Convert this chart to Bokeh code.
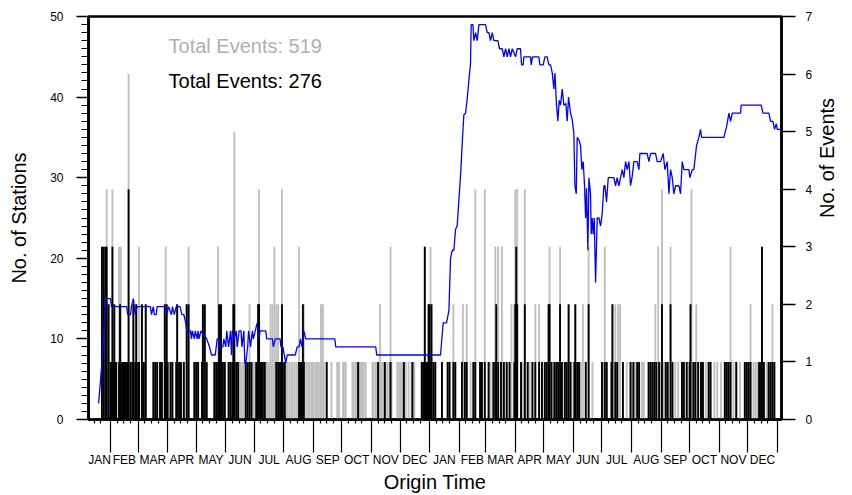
import numpy as np
from bokeh.plotting import figure
from bokeh.models import Range1d, LinearAxis, FixedTicker, Label
from bokeh.embed import file_html
from bokeh.resources import INLINE

FONT = "Liberation Sans"
GRAY = "#c0c0c0"
BLUE = "#0000ff"

MONTH_NAMES = ["JAN", "FEB", "MAR", "APR", "MAY", "JUN",
               "JUL", "AUG", "SEP", "OCT", "NOV", "DEC"]
# two consecutive years, the first one a leap year; day 0 is 1 January of year one
days_in_month = [31, 29, 31, 30, 31, 30, 31, 31, 30, 31, 30, 31,
                 31, 28, 31, 30, 31, 30, 31, 31, 30, 31, 30, 31]
X_START, X_END = 7.9, 735.5

# daily event counts, one digit per day, one string per month
all_events_y1 = [
    "0000000000000000000000" "313134120",
    "1141211003" "2311111116" "111121120",
    "1300211120" "0000001111" "10011100232",
    "1001110001" "2111100100" "2130000010",
    "1110001212" "1100000001" "11132121111",
    "0001111125" "1111010101" "0111121111",
    "1011241111" "1111111212" "13121211041",
    "1101101011" "0101013101" "22101011011",
    "1011101122" "2100100001" "0000011100",
    "0110100000" "0110110111" "01110100000",
    "0110110102" "1010110101" "3100000101",
    "1010101001" "0011010000" "00111131112",
]
all_events_y2 = [
    "2321101000" "0001000001" "01000201000",
    "0001201020" "0010010400" "00101004",
    "0001010010" "3203001301" "00100102002",
    "4340001010" "4001010010" "0200020010",
    "0101023010" "0101010301" "00101020110",
    "0120101010" "2001003000" "1000000000",
    "1013010000" "1200211202" "00100010001",
    "1010101010" "0101000010" "10101211310",
    "1401010100" "3010010010" "0010100100",
    "1240101201" "0010100100" "10100010010",
    "0010001010" "1030010010" "0010000101",
    "0102001010" "1010130100" "10101020100",
]
selected_events_y1 = [
    "0000000000000000000000" "303033020",
    "1131211001" "2101111114" "010120120",
    "1100201020" "0000001010" "10010100212",
    "1001010001" "2010100100" "2020000010",
    "1010001202" "0100000001" "01012020101",
    "0001010122" "0101000000" "0101010100",
    "0011221011" "0100000000" "00010101021",
    "0100000000" "0000001101" "21000000000",
    "0000000000" "0000100000" "0000000000",
    "0000000000" "0000000100" "00000000000",
    "0000000100" "0000100000" "1000000000",
    "0000100000" "0001000000" "00010131112",
]
selected_events_y2 = [
    "2120101000" "0001000001" "01000101000",
    "0001001010" "0000010100" "00101001",
    "0001000010" "1201001001" "00100100001",
    "2320001000" "2001000010" "0100010010",
    "0101022010" "0101010201" "00101020100",
    "0120101000" "0001002000" "0000000000",
    "1001010000" "1200101000" "00100000001",
    "0010001010" "0000000010" "10101010010",
    "0200010100" "2010000000" "0010100100",
    "1200101001" "0010100000" "10100000000",
    "0000001010" "1010000010" "0000000101",
    "0101000000" "0010130100" "00101010100",
]

# number of recording stations (day, stations)
station_day = [
    18.5, 22, 26, 31, 32, 48, 49, 52, 53, 55, 56, 57, 59, 73, 74, 76, 77, 79, 80,
    89, 90, 92, 95, 96, 98, 100, 104, 106, 108, 110, 111, 115, 116, 117, 119, 120,
    122, 123, 124, 126, 132, 135, 137, 141, 143, 145, 146, 149, 150, 152, 153, 155,
    157, 158, 159, 161, 163, 164, 166, 168, 169, 171, 172, 173, 175, 176, 178, 180,
    181, 183, 185, 187, 188, 194, 195, 201, 202, 204, 209, 210, 212, 213.5, 215,
    216.5, 225, 227, 229, 230.5, 232, 234, 236, 266.5, 267.5, 309.5, 310.5,
    377.5, 380.3, 383.8, 386.3, 388, 389.8, 391.5, 393.3, 395, 396.8, 398.5, 400.3,
    402, 403.8, 405.5, 407.3, 409, 409.7, 411.5, 412.5, 414.3, 416, 417.8, 424.8,
    426.5, 428.3, 430, 431.8, 433.5, 437.7, 439.5, 442.3, 444, 445.8, 447.5, 449.3,
    451, 452.8, 456.3, 458, 461.5, 462.6, 464.3, 465, 472, 472.7, 474.1, 480.8,
    481.8, 485.3, 487.1, 489.5, 491.3, 493, 494.8, 496.5, 497.6, 499.3, 500.7,
    502.1, 503.5, 505.3, 507, 509.1, 510.5, 511.9, 514, 515.8, 517.5, 518.6, 520,
    521, 522.8, 524.5, 525.9, 527.3, 528.7, 529.8, 530.8, 532.2, 533.3, 535, 535.7,
    536.8, 537.8, 538.9, 540.3, 542, 543.8, 545.5, 547.3, 549, 550.1, 551.8, 553.6,
    559.5, 561.3, 563, 564.8, 566.5, 568.3, 570, 571.8, 573.5, 575.3, 577, 578.8,
    580.5, 584, 585.8, 586.8, 594.5, 596.3, 598, 603.3, 605, 608.5, 611.3, 613.1,
    615.5, 617.3, 619, 620.8, 622.5, 624.3, 627.8, 629.5, 631.3, 633, 638.3, 639.3,
    641.8, 643.5, 646.3, 648.8, 650.5, 651.6, 675, 677.8, 680.3, 682, 683.8, 692.5,
    693.2, 714.2, 716, 722.3, 724, 726.5, 728.2, 730, 731, 734.5, 735.5,
]
station_count = [
    2, 7, 15, 15, 14, 14, 13, 13, 14, 15, 14, 13, 14, 14, 13, 14, 13, 13, 14,
    14, 13, 14, 13, 14, 13, 14, 14, 13, 13, 12, 11, 11, 10, 11, 10, 11,
    10, 11, 10, 11, 10, 9, 8, 8, 10, 10, 9, 9, 10, 9, 11, 9,
    11, 8, 11, 10, 11, 9, 11, 11, 9, 11, 7, 7, 9, 11, 9, 11,
    10, 11, 12, 10, 11, 11, 10, 10, 9, 10, 10, 9, 9, 8, 7,
    8, 8, 9, 9, 10, 9, 11, 10, 10, 9, 9, 8,
    8, 12, 12, 13.5, 20, 21, 21, 23.6, 24, 27.3, 30.2, 34.3,
    37.8, 38, 39.8, 42.1, 44.2, 49, 49, 47, 48, 47, 49, 49,
    48, 48, 47, 48, 47, 47, 46, 46, 45, 46, 45, 46,
    45, 46, 45, 46, 46, 44, 44, 45, 45, 44, 45, 45,
    44, 44, 45, 45, 44, 44, 43, 41, 43, 39, 37,
    39.6, 39, 41, 39, 39.2, 37, 40, 38, 37.2, 35.5, 29, 28,
    35, 34.7, 34, 31, 32, 29, 25, 28.7, 21, 30, 28, 23,
    25, 23, 25, 17, 25, 25, 24, 25.6, 29, 29, 27, 30,
    30, 29, 30, 29, 30, 31, 30, 32, 31, 32, 29, 30.2,
    32, 32, 31, 33, 33, 32, 33, 33, 32, 32, 33, 31,
    32, 28, 31, 30, 28, 29, 29, 28, 32, 31, 31, 30,
    31, 31, 34, 35, 36, 35, 35, 36.3, 38, 37, 38, 38,
    39, 39, 38, 38, 37, 37, 36, 36.7, 36, 36, 37,
]


def to_counts(months):
    return np.array([int(ch) for m in months for ch in m])


all_counts = np.concatenate([to_counts(all_events_y1), to_counts(all_events_y2)])
sel_counts = np.concatenate([to_counts(selected_events_y1), to_counts(selected_events_y2)])
days = np.arange(len(all_counts))

month_start = np.concatenate([[0], np.cumsum(days_in_month)])
boundaries = [float(m) for m in month_start if X_START < m < X_END]
weekly = [float(m + k) for m in month_start[:-1] for k in (7, 14, 21)
          if X_START < m + k < X_END]
centers, month_labels = [], {}
for i in range(len(days_in_month)):
    a = max(month_start[i], X_START)
    b = min(month_start[i + 1], X_END)
    if b - a > 10:
        c = float(round(a + b) / 2)
        centers.append(c)
        month_labels[c] = MONTH_NAMES[i % 12]

p = figure(width=852, height=495, output_backend="svg", toolbar_location=None,
           x_range=Range1d(X_START, X_END), y_range=Range1d(0, 50),
           x_axis_location=None, y_axis_location="left",
           min_border_left=88, min_border_right=71, min_border_top=16,
           min_border_bottom=74)
p.extra_y_ranges = {"events": Range1d(0, 7)}
p.grid.visible = False
p.background_fill_color = "white"
p.border_fill_color = "white"
p.outline_line_color = "black"
p.outline_line_width = 2.5

# daily bars: all events in gray, the selected subset in black on top
g = all_counts > 0
p.vbar(x=days[g], top=all_counts[g], bottom=0, width=2.0, fill_color=GRAY,
       line_color=None, y_range_name="events")
s = sel_counts > 0
p.vbar(x=days[s], top=sel_counts[s], bottom=0, width=2.0, fill_color="black",
       line_color=None, y_range_name="events")

p.line(station_day, station_count, line_color=BLUE, line_width=1.3)

# left axis: stations
ya = p.yaxis[0]
ya.ticker = FixedTicker(ticks=[0, 10, 20, 30, 40, 50], minor_ticks=list(range(51)))
ya.major_tick_out, ya.major_tick_in = 12, 0
ya.minor_tick_out, ya.minor_tick_in = 7, 0
ya.major_tick_line_width = 1.5
ya.minor_tick_line_width = 1.2
ya.axis_line_width = 2.5
ya.major_label_standoff = 13
ya.major_label_text_font = FONT
ya.major_label_text_font_size = "12px"
ya.major_label_text_color = "black"
ya.axis_label = "No. of Stations"
ya.axis_label_text_font = FONT
ya.axis_label_text_font_size = "20px"
ya.axis_label_text_font_style = "normal"
ya.axis_label_text_color = "black"
ya.axis_label_standoff = 17

# right axis: events, title reading upwards
ra = LinearAxis(y_range_name="events", ticker=FixedTicker(ticks=list(range(8))))
ra.major_tick_out, ra.major_tick_in = 14, 0
ra.minor_tick_out, ra.minor_tick_in = 0, 0
ra.major_tick_line_width = 1.5
ra.axis_line_width = 2.5
ra.major_label_standoff = 10
ra.major_label_text_font = FONT
ra.major_label_text_font_size = "12px"
ra.major_label_text_color = "black"
ra.axis_label = "No. of Events"
ra.axis_label_orientation = np.pi / 2
ra.axis_label_text_font = FONT
ra.axis_label_text_font_size = "20px"
ra.axis_label_text_font_style = "normal"
ra.axis_label_text_color = "black"
ra.axis_label_standoff = 12
p.add_layout(ra, "right")

# bottom: month boundary ticks and weekly minor ticks (no labels drawn)
ta = LinearAxis(ticker=FixedTicker(ticks=boundaries, minor_ticks=weekly))
ta.major_tick_out, ta.major_tick_in = 33, 0
ta.minor_tick_out, ta.minor_tick_in = 4, 0
ta.major_tick_line_width = 1.2
ta.minor_tick_line_width = 1.2
ta.axis_line_width = 2.5
ta.major_label_text_font_size = "1px"
ta.major_label_text_color = None
ta.major_label_standoff = 0
p.add_layout(ta, "below")

# bottom: month names centred on each month
la = LinearAxis(ticker=FixedTicker(ticks=centers, minor_ticks=[]))
la.major_label_overrides = month_labels
la.axis_line_color = None
la.major_tick_line_color = None
la.major_tick_out, la.major_tick_in = 0, 0
la.minor_tick_out, la.minor_tick_in = 0, 0
la.major_label_standoff = 0
la.major_label_text_font = FONT
la.major_label_text_font_size = "12px"
la.major_label_text_color = "black"
la.axis_label = "Origin Time"
la.axis_label_text_font = FONT
la.axis_label_text_font_size = "20px"
la.axis_label_text_font_style = "normal"
la.axis_label_text_color = "black"
la.axis_label_standoff = 1
p.add_layout(la, "below")

p.add_layout(Label(x=91.9, y=46.36, text=f"Total Events: {int(all_counts.sum())}",
                   text_align="left", text_baseline="middle",
                   text_font=FONT, text_font_size="20px", text_color="#b0b0b0"))
p.add_layout(Label(x=91.9, y=41.98, text=f"Total Events: {int(sel_counts.sum())}",
                   text_align="left", text_baseline="middle",
                   text_font=FONT, text_font_size="20px", text_color="black"))

open("out.html", "w").write(file_html(p, INLINE))
